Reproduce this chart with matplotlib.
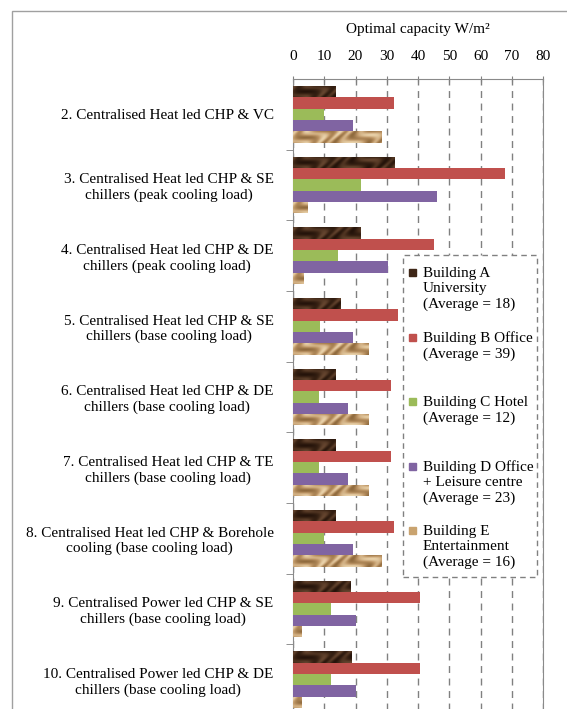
import matplotlib.pyplot as plt
from matplotlib.patches import Rectangle
from matplotlib.colors import LinearSegmentedColormap
import numpy as np

# option labels, top to bottom
options = [
    "2. Centralised Heat led CHP & VC",
    "3. Centralised Heat led CHP & SE\nchillers (peak cooling load)",
    "4. Centralised Heat led CHP & DE\nchillers (peak cooling load)",
    "5. Centralised Heat led CHP & SE\nchillers (base cooling load)",
    "6. Centralised Heat led CHP & DE\nchillers (base cooling load)",
    "7. Centralised Heat led CHP & TE\nchillers (base cooling load)",
    "8. Centralised Heat led CHP & Borehole\ncooling (base cooling load)",
    "9. Centralised Power led CHP & SE\nchillers (base cooling load)",
    "10. Centralised Power led CHP & DE\nchillers (base cooling load)",
]

# optimal capacity W/m2 per building
building_a = [13.5, 32.5, 21.6, 15.1, 13.5, 13.5, 13.5, 18.4, 18.7]
building_b = [32.3, 67.9, 45.1, 33.7, 31.3, 31.3, 32.3, 40.5, 40.5]
building_c = [9.8, 21.7, 14.4, 8.7, 8.3, 8.3, 9.8, 12.0, 12.0]
building_d = [19.3, 46.1, 30.5, 19.3, 17.5, 17.5, 19.3, 20.3, 20.3]
building_e = [28.2, 4.8, 3.5, 24.1, 24.1, 24.1, 28.2, 2.8, 2.8]

legend_labels = [
    "Building A\nUniversity\n(Average = 18)",
    "Building B Office\n(Average = 39)",
    "Building C Hotel\n(Average = 12)",
    "Building D Office\n+ Leisure centre\n(Average = 23)",
    "Building E\nEntertainment\n(Average = 16)",
]
colors = ["#3f2717", "#c0504d", "#9bbb59", "#8064a2", "#c9a36f"]

plt.rcParams['font.family'] = 'Liberation Serif'
plt.rcParams['font.size'] = 11

fig = plt.figure(figsize=(5.67, 7.09), dpi=100)
W, H = 567, 709
ax = fig.add_axes([293 / W, (H - 715) / H, 250 / W, 636 / H])

# wood-ish / sand-ish fills for A and E (Excel picture fills)
gx, gy = np.meshgrid(np.linspace(0, 80, 600), np.linspace(0, 1, 30))
tex = np.sin(gx * 1.1 + 3 * np.sin(gx * 0.35 + gy * 3)) + 0.4 * np.sin(gy * 5 + gx * 0.5)
wood = LinearSegmentedColormap.from_list("wood", ["#24130a", "#3f2717", "#65452f"])
sand = LinearSegmentedColormap.from_list("sand", ["#8f6a3d", "#c09868", "#ead3ab"])

series = [building_a, building_b, building_c, building_d, building_e]
y = np.arange(len(options))
bh = 0.16
for i, vals in enumerate(series):
    bars = ax.barh(y - 0.32 + i * bh, vals, height=bh, color=colors[i], zorder=3)
    if i in (0, 4):
        cm = wood if i == 0 else sand
        for k, b in enumerate(bars):
            yc = y[k] - 0.32 + i * bh
            im = ax.imshow(tex, cmap=cm, extent=[0, 80, yc + bh / 2, yc - bh / 2],
                           aspect='auto', interpolation='bilinear', zorder=3.5)
            im.set_clip_path(b)

ax.set_xlim(0, 80)
ax.set_ylim(len(options) - 0.5, -0.5)
ax.xaxis.tick_top()
ax.xaxis.set_label_position('top')
ax.set_xticks(range(0, 81, 10))
ax.set_xlabel("Optimal capacity W/m²", labelpad=12)
ax.tick_params(axis='x', direction='inout', length=5, pad=9, color='#808080')

ax.set_yticks(y)
ax.set_yticklabels(options, multialignment='center')
ax.set_yticks(np.arange(len(options)) + 0.5, minor=True)
ax.tick_params(axis='y', which='major', length=0, pad=14)
ax.tick_params(axis='y', which='minor', direction='out', length=5, color='#808080')

ax.grid(axis='x', linestyle=(0, (5, 4)), color='#808080', lw=1, zorder=0)
for s in ax.spines.values():
    s.set_color('#8a8a8a')

# legend box drawn by hand so the entries sit evenly
fig.add_artist(Rectangle((403 / W, (H - 577) / H), 134 / W, 322 / H,
                         transform=fig.transFigure, fill=True, facecolor='white',
                         edgecolor='#808080', ls=(0, (4, 3)), lw=1, zorder=5))
for i, lab in enumerate(legend_labels):
    ty = 272 + i * 64.5
    fig.add_artist(Rectangle((409 / W, (H - ty - 4) / H), 7 / W, 7 / H,
                             transform=fig.transFigure, color=colors[i], zorder=6))
    fig.text(423 / W, (H - ty + 5) / H, lab, va='top', ha='left',
             linespacing=1.2, zorder=6)

# outer chart border
fig.add_artist(Rectangle((12 / W, -0.1), 1.0, (H - 11) / H + 0.1,
                         transform=fig.transFigure, fill=False,
                         edgecolor='#a0a0a0', lw=1))

fig.savefig("out.png", dpi=100)
